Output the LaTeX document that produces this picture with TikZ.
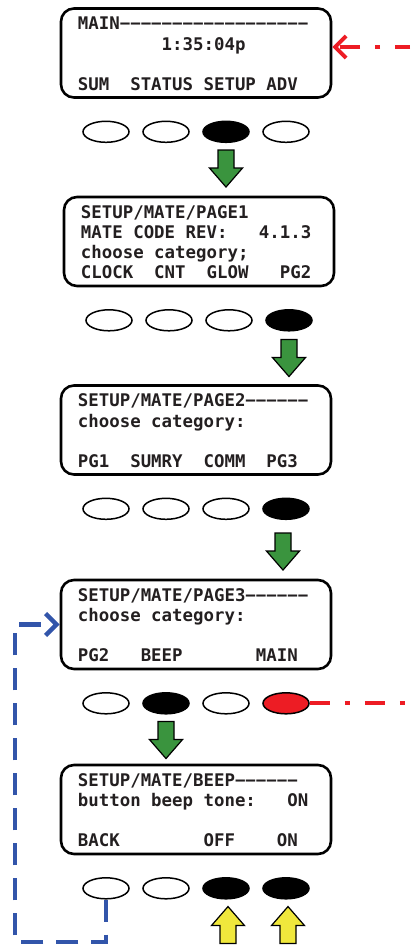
\documentclass[tikz,border=0pt]{standalone}
\usepackage{fontspec}
\setmonofont{DejaVu Sans Mono}
\usetikzlibrary{shapes.geometric, arrows.meta, positioning}

\definecolor{lcdtext}{RGB}{35,31,32}
\definecolor{keygreen}{RGB}{58,148,62}
\definecolor{keyyellow}{RGB}{240,232,60}
\definecolor{retred}{RGB}{237,28,36}
\definecolor{backblue}{RGB}{50,85,170}

\tikzset{
	pics/blockarrow/.style={code={
		\draw[line width=1.2pt, fill=#1] (-8,0) -- (8,0) -- (8,18) -- (16.5,18) -- (0,37) -- (-16.5,18) -- (-8,18) -- cycle;
	}}
}

\begin{document}
\begin{tikzpicture}[x=1pt, y=-1pt,
	screen/.style={draw, line width=2.6pt, rounded corners=13pt, minimum width=270pt, minimum height=89pt, inner sep=0pt},
	lcd/.style={font=\ttfamily\bfseries\fontsize{17.4}{20.2}\selectfont, text=lcdtext, align=left, inner sep=0pt, anchor=north west},
	key/.style={draw, ellipse, line width=1.5pt, minimum width=46pt, minimum height=21pt, inner sep=0pt},
	mainret/.style={retred, line width=4pt, dash pattern=on 20pt off 15pt on 5pt off 15pt},
	backret/.style={backblue, line width=4.5pt, dash pattern=on 22pt off 13pt}]

\useasboundingbox (0,0) rectangle (410,947);

%% Displays
\node[screen] (s1) at (196,53) {};
\node[screen] (s2) at (199,241.5) {};
\node[screen] (s3) at (196,430) {};
\node[screen] (s4) at (196,624.5) {};
\node[screen] (s5) at (196,809.5) {};

%% Display texts
\node[lcd] (t1) at ([shift={(18,8.3)}]s1.north west) {\strut MAIN−−−−−−−−−−−−−−−−−−\\~~~~~~~~1:35:04p\\~\\SUM~~STATUS~SETUP~ADV};
\node[lcd] (t2) at ([shift={(18,8.3)}]s2.north west) {\strut SETUP/MATE/PAGE1\\MATE~CODE~REV:~~~4.1.3\\choose~category;\\CLOCK~~CNT~~GLOW~~~PG2};
\node[lcd] (t3) at ([shift={(18,8.3)}]s3.north west) {\strut SETUP/MATE/PAGE2−−−−−−\\choose~category:\\~\\PG1~~SUMRY~~COMM~~PG3};
\node[lcd] (t4) at ([shift={(18,8.3)}]s4.north west) {\strut SETUP/MATE/PAGE3−−−−−−\\choose~category:\\~\\PG2~~~BEEP~~~~~~~MAIN};
\node[lcd] (t5) at ([shift={(18,8.3)}]s5.north west) {\strut SETUP/MATE/BEEP−−−−−−\\button~beep~tone:~~~ON\\~\\BACK~~~~~~~~OFF~~~~ON};

%% Keys under each display
\foreach \s/\fills in {1/{white,white,black,white}, 2/{white,white,white,black},
		3/{white,white,white,black}, 4/{white,black,white,retred}, 5/{white,white,black,black}}
	\foreach \f [count=\k] in \fills
		\node[key, fill=\f] (b\s\k) at ([shift={(60*\k-150,33)}]s\s.south) {};

%% Key pressed -> next display
\pic at ([shift={(0,7)}]b13.south) {blockarrow=keygreen};
\pic at ([shift={(0,8)}]b24.south) {blockarrow=keygreen};
\pic at ([shift={(-3,13)}]b34.south) {blockarrow=keygreen};
\pic at ([shift={(0,7)}]b42.south) {blockarrow=keygreen};

%% OFF / ON
\pic[yscale=-1] at ([shift={(2,44)}]b53.south) {blockarrow=keyyellow};
\pic[yscale=-1] at ([shift={(2,44)}]b54.south) {blockarrow=keyyellow};

%% MAIN key returns to the first display
\coordinate (ret in) at (410,47);
\draw[mainret, dash phase=5pt, -{Straight Barb[length=11pt, width=22pt]}] (ret in) -- (ret in -| s1.east);
\draw[mainret] (b44.east) -- (b44.east -| ret in);

%% BACK key returns to PAGE3
\coordinate (back low) at (15,942);
\draw[backret, -{Straight Barb[length=11pt, width=22pt]}] (b51.south) -- (b51.south |- back low) -- (back low) -- (back low |- s4.west) -- (s4.west);

\end{tikzpicture}
\end{document}
